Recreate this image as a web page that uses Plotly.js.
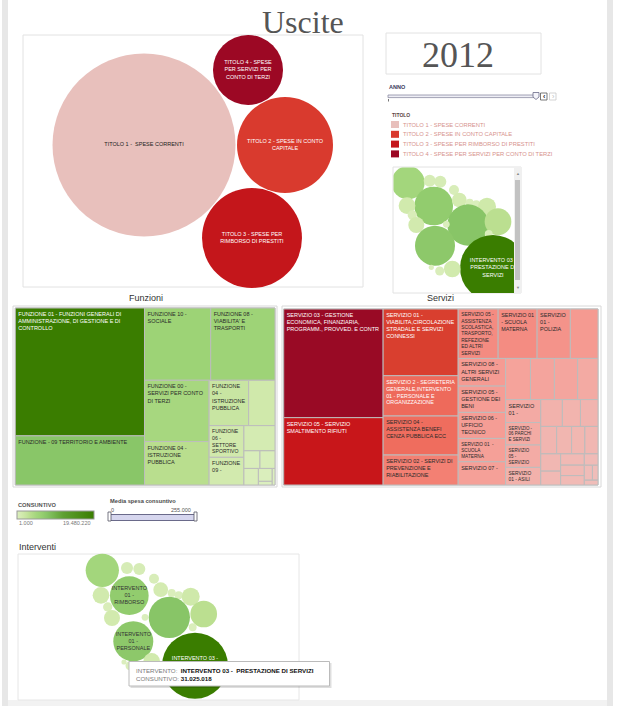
<!DOCTYPE html>
<html><head><meta charset="utf-8">
<script src="https://cdn.plot.ly/plotly-3.0.1.min.js"></script>
<style>html,body{margin:0;padding:0;background:#fff;overflow:hidden}</style>
</head><body><div id="chart" style="width:619px;height:706px"></div>
<script>
// ---------------- DATA ----------------
const pageTitle = 'Uscite';
const anno = '2012';

const titoli = ['TITOLO 1 - SPESE CORRENTI','TITOLO 2 - SPESE IN CONTO CAPITALE','TITOLO 3 - SPESE PER RIMBORSO DI PRESTITI','TITOLO 4 - SPESE PER SERVIZI PER CONTO DI TERZI'];
const titoliConsuntivo = [54300000, 14950000, 16200000, 7950000];
const titoliBubbleText = ['TITOLO 1 -  SPESE CORRENTI','TITOLO 2 - SPESE IN CONTO<br>CAPITALE','TITOLO 3 - SPESE PER<br>RIMBORSO DI PRESTITI','TITOLO 4 - SPESE<br>PER SERVIZI PER<br>CONTO DI TERZI'];

const funzioniIds = ['F01','F09T','F10','F08','F00','F04A','F04B','FX1','F06','F09','FX2','FX3','FX4','FX5','FX6','FX7','FX8'];
const funzioniText = ['FUNZIONE 01 - FUNZIONI GENERALI DI<br>AMMINISTRAZIONE, DI GESTIONE E DI<br>CONTROLLO','FUNZIONE - 09 TERRITORIO E AMBIENTE','FUNZIONE 10 -<br>SOCIALE','FUNZIONE 08 -<br>VIABILITA\' E<br>TRASPORTI','FUNZIONE 00 -<br>SERVIZI PER CONTO<br>DI TERZI','FUNZIONE 04 -<br>ISTRUZIONE<br>PUBBLICA','FUNZIONE<br>04 -<br>ISTRUZIONE<br>PUBBLICA','','FUNZIONE<br>06 -<br>SETTORE<br>SPORTIVO','FUNZIONE<br>09 -','','','','','','',''];
const funzioniConsuntivo = [19480220, 7488000, 5643000, 5480000, 4667000, 3310000, 2116000, 1411000, 1302000, 1139000, 922000, 333900, 312700, 282200, 210100, 59700, 54300];

const serviziIds = ['S03','S05R','S01V','S2','S04','S02','S05A','S01M','S01P','SX1','S08','S05B','S06','S01M2','S07','SX2','SX3','SX4','SX5','S01','S06P','S05S','S01A','SX6','SX7','SX8','SX9','SX10','SX11','SX12','SX13','SX14','SX15','SX16','SX17','SX18','SX19','SX20','SX21'];
const serviziText = ['SERVIZIO 03 - GESTIONE<br>ECONOMICA, FINANZIARIA,<br>PROGRAMM., PROVVED. E CONTR','SERVIZIO 05 - SERVIZIO<br>SMALTIMENTO RIFIUTI','SERVIZIO 01 -<br>VIABILITA,CIRCOLAZIONE<br>STRADALE E SERVIZI<br>CONNESSI','SERVIZIO 2 - SEGRETERIA<br>GENERALE,INTERVENTO<br>01 - PERSONALE E<br>ORGANIZZAZIONE','SERVIZIO 04 -<br>ASSISTENZA BENEFI<br>CENZA PUBBLICA ECC','SERVIZIO 02 - SERVIZI DI<br>PREVENZIONE E<br>RIABILITAZIONE','SERVIZIO 05 -<br>ASSISTENZA<br>SCOLASTICA,<br>TRASPORTO,<br>REFEZIONE<br>ED ALTRI<br>SERVIZI','SERVIZIO 01<br>- SCUOLA<br>MATERNA','SERVIZIO<br>01 -<br>POLIZIA','','SERVIZIO 08 -<br>ALTRI SERVIZI<br>GENERALI','SERVIZIO 05 -<br>GESTIONE DEI<br>BENI','SERVIZIO 06 -<br>UFFICIO<br>TECNICO','SERVIZIO 01  -<br>SCUOLA<br>MATERNA','SERVIZIO 07 -','','','','','SERVIZIO<br>01 -','SERVIZIO -<br>06 PARCHI<br>E SERVIZI','SERVIZIO<br>05 -<br>SERVIZIO','SERVIZIO<br>01 - ASILI','','','','','','','','','','','','','','','',''];
const serviziConsuntivo = [10604790, 6570300, 4914150, 2970210, 2872470, 2210010, 1938510, 1889640, 1612710, 1341210, 1286910, 1221750, 1210890, 1086000, 1080570, 1004550, 966540, 939390, 819930, 792780, 776490, 771060, 608160, 570150, 477840, 461550, 428970, 401820, 358380, 352950, 336660, 271500, 260640, 244350, 217200, 152040, 119460, 81450, 65160];

const interventiLabels = ['','','','','INTERVENTO<br>01 -<br>RIMBORSO','','','','','','','','','','','','INTERVENTO<br>01 -<br>PERSONALE','INTERVENTO 03 -<br>PRESTAZIONE DI<br>SERVIZI','','',''];
const interventiConsuntivo = [7900000, 1030000, 1030000, 710000, 10670000, 1990000, 1540000, 456000, 470000, 2310000, 617000, 1820000, 12150000, 5080000, 320000, 440000, 11400000, 31025018, 1990000, 580000, 190000];
const tooltipIndex = 17;
const tooltipNome = 'INTERVENTO 03 -  PRESTAZIONE DI SERVIZI';
const tooltipValore = '31.025.018';

const consuntivoMin = 1000, consuntivoMax = 19480220;
const mediaMin = '0', mediaMax = '255.000';

// ---------------- LAYOUT (packing positions, pixel space) ----------------
const titoliPackX = [144, 285, 252, 248];
const titoliPackY = [145, 145, 238, 70];
const interventiPackX = [102.3,127,139.3,154,129.3,101,160.7,171.7,178.7,190.7,107.7,112,169.3,203.7,145,192.7,133.3,195,151.7,130,124];
const interventiPackY = [570.3,568,569,578.7,595.7,595.3,589.7,593,595.3,596.7,607,618,617.3,614,617.3,627.3,641.3,665.7,661.3,665.7,662];
const serviziPackX = [408,429.7,440.3,454,433.7,407,459.3,469.7,476.3,487,412.3,416.3,468,498,446.3,488.7,435,493,452.3,439.7,431.3];
const serviziPackY = [182.7,180.7,181.7,190,206,205.7,200,202.7,204.3,206.7,215,225,225,221.7,224.3,234,245.7,268,269,271,267.3];

// ---------------- STYLE ----------------
const W = 619, H = 706;
const FONT = 'Liberation Sans, Arial, sans-serif';
const SERIF = 'Liberation Serif, Times New Roman, serif';
const LABEL_SIZE = 5.5, LINE_H = LABEL_SIZE * 1.3;
const titoliColori = ['#e8c0bc','#d93a2e','#c4161b','#9c0824'];
const titoliTextColor = ['#222','#fff','#fff','#fff'];
const greenScale = [[0,'#dcefbf'],[0.06,'#d2eaae'],[0.12,'#c6e49f'],[0.17,'#b9de8e'],[0.25,'#a4d67d'],[0.3,'#9bd274'],[0.39,'#88c567'],[0.6,'#5ea032'],[1,'#3a7d00']];
const redScale = [[0,'#f0bfbb'],[0.06,'#f2b0aa'],[0.1,'#f5a199'],[0.19,'#f4897f'],[0.22,'#f27b6c'],[0.28,'#ee6a5b'],[0.46,'#d9402f'],[0.62,'#c8161a'],[1,'#990a25']];

const px = x => x / W;
const py = y => 1 - y / H;

const traces = [];

// Titolo bubbles
traces.push({
  type:'scatter', mode:'markers+text', xaxis:'x', yaxis:'y', cliponaxis:false,
  x: titoliPackX, y: titoliPackY, text: titoliBubbleText, hoverinfo:'skip',
  textposition:'middle center',
  textfont:{family:FONT, size:LABEL_SIZE, color:titoliTextColor},
  marker:{size: titoliConsuntivo, sizemode:'area', sizeref: 2*Math.max(...titoliConsuntivo)/(183*183), color: titoliColori, opacity:1, line:{width:0}}
});

// Servizi bubble panel (clipped)
traces.push({
  type:'scatter', mode:'markers+text', xaxis:'x2', yaxis:'y2', cliponaxis:true,
  x: serviziPackX, y: serviziPackY, hoverinfo:'skip',
  text: interventiLabels.map((t,i)=> i===tooltipIndex ? t : ''),
  textposition:'middle center',
  textfont:{family:FONT, size:LABEL_SIZE, color:'#fff'},
  marker:{size: interventiConsuntivo, sizemode:'area', sizeref: 2*Math.max(...interventiConsuntivo)/(66*66),
    color: interventiConsuntivo, cmin:0, cmax:Math.max(...interventiConsuntivo), colorscale: greenScale, showscale:false, opacity:1, line:{width:0}}
});

// Interventi bubbles
traces.push({
  type:'scatter', mode:'markers+text', xaxis:'x', yaxis:'y', cliponaxis:false,
  x: interventiPackX, y: interventiPackY, hoverinfo:'skip',
  text: interventiLabels.map((t,i)=> i===tooltipIndex ? '' : t),
  textposition:'middle center',
  textfont:{family:FONT, size:LABEL_SIZE, color:'#333'},
  marker:{size: interventiConsuntivo, sizemode:'area', sizeref: 2*Math.max(...interventiConsuntivo)/(66*66),
    color: interventiConsuntivo, cmin:0, cmax:Math.max(...interventiConsuntivo), colorscale: greenScale, showscale:false, opacity:1, line:{width:0}}
});
// hovered bubble: only the first label line shows above the tooltip
traces.push({
  type:'scatter', mode:'text', xaxis:'x', yaxis:'y', cliponaxis:false, hoverinfo:'skip',
  x:[interventiPackX[tooltipIndex]], y:[interventiPackY[tooltipIndex] - LINE_H],
  text:[interventiLabels[tooltipIndex].split('<br>')[0]], textposition:'middle center',
  textfont:{family:FONT, size:LABEL_SIZE, color:'#fff'}
});

// Funzioni treemap
traces.push({
  type:'treemap', ids: funzioniIds, labels: funzioniIds, parents: funzioniIds.map(()=>''),
  values: funzioniConsuntivo, text: funzioniText, textinfo:'text', textposition:'top left',
  branchvalues:'remainder', sort:true, hoverinfo:'skip',
  domain:{x:[px(15.3), px(275)], y:[py(485), py(308)]},
  tiling:{packing:'squarify', squarifyratio:1.618, pad:0},
  pathbar:{visible:false},
  textfont:{family:FONT, size:LABEL_SIZE, color: funzioniIds.map((d,i)=> i===0 ? '#fff' : '#2a2a2a')},
  marker:{colors: funzioniConsuntivo, colorscale: greenScale, cmin: consuntivoMin, cmax: consuntivoMax,
    line:{color:'#bdbdbd', width:1}, pad:{t:0,l:0,r:0,b:0},
    showscale:true,
    colorbar:{orientation:'h', x:px(17), xanchor:'left', y:py(511.3), yanchor:'top',
      len:77, lenmode:'pixels', thickness:8, thicknessmode:'pixels', xpad:0, ypad:0,
      outlinecolor:'#9a9a9a', outlinewidth:1, showticklabels:false, ticks:''}}
});

// Servizi treemap
traces.push({
  type:'treemap', ids: serviziIds, labels: serviziIds, parents: serviziIds.map(()=>''),
  values: serviziConsuntivo, text: serviziText, textinfo:'text', textposition:'top left',
  branchvalues:'remainder', sort:true, hoverinfo:'skip',
  domain:{x:[px(283.7), px(598)], y:[py(485), py(309)]},
  tiling:{packing:'squarify', squarifyratio:1.618, pad:0},
  pathbar:{visible:false},
  textfont:{family:FONT, size:LABEL_SIZE, color: serviziIds.map((d,i)=> i<4 ? '#fff' : '#2a2a2a')},
  marker:{colors: serviziConsuntivo, colorscale: redScale, cmin:0, cmax: Math.max(...serviziConsuntivo),
    line:{color:'#bdbdbd', width:1}, pad:{t:0,l:0,r:0,b:0}, showscale:false}
});

// ---------------- SHAPES ----------------
const shapes = [];
const rect = (x0,y0,x1,y1,fill,line,lw,layer) => shapes.push({type:'rect', xref:'x', yref:'y', x0,y0,x1,y1, fillcolor:fill||'rgba(0,0,0,0)', line:{color:line||'rgba(0,0,0,0)', width: lw===undefined ? 1 : lw}, layer: layer||'above'});

rect(2,0,8,706,'#e7e7e7',null,0,'below');
rect(607,0,613,706,'#e7e7e7',null,0,'below');
rect(8,700,607,706,'#f2f2f2',null,0,'below');
rect(23,35,363,287,null,'#e2e2e2',1,'below');
rect(386,33,541,74,null,'#e2e2e2',1,'below');
// ANNO slider
rect(388,95,536,97.6,'#eeeef5','#8c8ca2',0.8);
shapes.push({type:'line', xref:'x', yref:'y', x0:388.5, x1:388.5, y0:99, y1:101.5, line:{color:'#777', width:1}});
shapes.push({type:'path', xref:'x', yref:'y', path:'M 533 92.5 L 539 92.5 L 539 97 L 536 99.5 L 533 97 Z', fillcolor:'#f4f4fa', line:{color:'#6a6a88', width:0.8}});
rect(540.5,93,547,100,'#fff','#555',0.8);
rect(549.5,93,556,100,'#fff','#c8c8c8',0.8);
// legend squares
titoli.forEach((t,i)=> rect(391,121+i*9.8,399,128+i*9.8,titoliColori[i],null,0));
// servizi panel frame + scrollbar
rect(393,167,521,293,null,'#e2e2e2',1,'below');
rect(514,167,521,293,'#f0f0f0',null,0);
rect(515,180,520,280,'#c2c2c2',null,0);
// treemap frames
rect(13,306,277,487,null,'#d8d8d8',1,'below');
rect(282,306,601,487,null,'#d8d8d8',1,'below');
// media range slider
rect(110,514.5,195,520.5,'#d6d6ee','#6a6a8a',1);
shapes.push({type:'path', xref:'x', yref:'y', path:'M 108 512 L 111 512 L 111 521 L 108 521 Z', fillcolor:'#fff', line:{color:'#556', width:0.8}});
shapes.push({type:'path', xref:'x', yref:'y', path:'M 194 512 L 197 512 L 197 521 L 194 521 Z', fillcolor:'#fff', line:{color:'#556', width:0.8}});
// interventi frame
rect(18,554,299,700,null,'#e6e6e6',1,'below');
// tooltip
rect(130.5,663,331.5,688,'rgba(0,0,0,0.13)',null,0);
rect(129,661.5,329.5,686,'#ffffff','#bbbbbb',1);

// ---------------- ANNOTATIONS ----------------
const ann = [];
const A = (x,y,text,size,color,xanchor,opts) => ann.push(Object.assign({xref:'x', yref:'y', x, y, text, showarrow:false, xanchor:xanchor||'center', yanchor:'middle', font:{family:FONT, size, color}}, opts||{}));

A(303,22,pageTitle,32,'#555','center',{font:{family:SERIF,size:32,color:'#555'}});
A(458,55,anno,36,'#555','center',{font:{family:SERIF,size:36,color:'#555'}});
A(386.5,86.7,'<b>ANNO</b>',5.5,'#3b3b5c','left');
A(544,96.5,'<b>‹</b>',7,'#222','center');
A(553,96.5,'›',7,'#bbb','center');
A(389.5,115,'<b>TITOLO</b>',5,'#5a4444','left');
titoli.forEach((t,i)=> A(401,124.5+i*9.8,t,5.8,'#d6928d','left'));
A(517.5,173,'▲',4,'#888','center');
A(517.5,287,'▼',4,'#888','center');
A(146,298,'Funzioni',9,'#333','center');
A(440,298,'Servizi',9,'#333','center');
A(15.5,504.5,'<b>CONSUNTIVO</b>',5.7,'#555','left');
A(17,523,consuntivoMin.toLocaleString('it-IT'),5.5,'#777','left');
A(93,523,consuntivoMax.toLocaleString('it-IT'),5.5,'#777','right');
A(107.5,500.5,'<b>Media spesa consuntivo</b>',5.7,'#4a4a4a','left');
A(108.5,510,mediaMin,5.5,'#555','left');
A(193,510,mediaMax,5.5,'#555','right');
A(17,546.5,'Interventi',9,'#333','left');
A(133.5,670,'<span style="color:#7a7a7a">INTERVENTO:</span>  <b>'+tooltipNome+'</b>',6.2,'#111','left');
A(133.5,678,'<span style="color:#7a7a7a">CONSUNTIVO:</span> <b>'+tooltipValore+'</b>',6.2,'#111','left');

const hiddenAxis = {visible:false, showgrid:false, zeroline:false, fixedrange:true};
const layout = {
  width:W, height:H, autosize:false,
  margin:{l:0,r:0,t:0,b:0,pad:0},
  paper_bgcolor:'#fff', plot_bgcolor:'rgba(0,0,0,0)',
  showlegend:false, hovermode:false,
  xaxis: Object.assign({domain:[0,1], range:[0,W]}, hiddenAxis),
  yaxis: Object.assign({domain:[0,1], range:[H,0]}, hiddenAxis),
  xaxis2: Object.assign({domain:[px(393.5), px(514)], range:[393.5,514], anchor:'y2'}, hiddenAxis),
  yaxis2: Object.assign({domain:[py(293), py(167.5)], range:[293,167.5], anchor:'x2'}, hiddenAxis),
  shapes, annotations: ann
};
Plotly.newPlot('chart', traces, layout, {displayModeBar:false, staticPlot:true});
</script></body></html>
